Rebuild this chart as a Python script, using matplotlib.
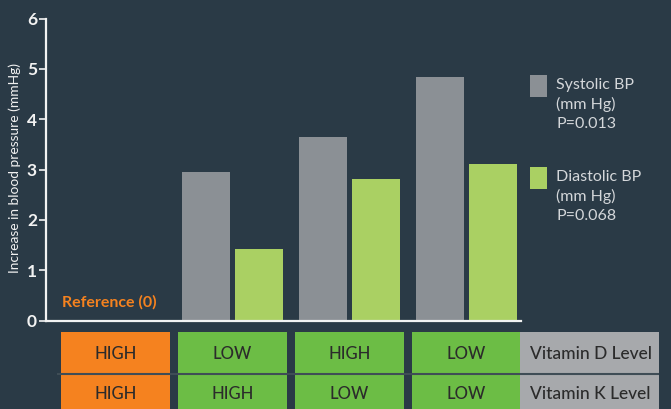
import matplotlib
matplotlib.use("Agg")
import matplotlib.pyplot as plt
from matplotlib.patches import Rectangle

# ---- data ----
groups = ["Reference", "LowD-HighK", "HighD-LowK", "LowD-LowK"]
systolic = [0, 2.95, 3.64, 4.84]
diastolic = [0, 1.42, 2.82, 3.10]
vitD = ["HIGH", "LOW", "HIGH", "LOW"]
vitK = ["HIGH", "HIGH", "LOW", "LOW"]
row_labels = ["Vitamin D Level", "Vitamin K Level"]
yticks = [0, 1, 2, 3, 4, 5, 6]
legend_labels = ["Systolic BP\n(mm Hg)\nP=0.013", "Diastolic BP\n(mm Hg)\nP=0.068"]

BG = "#2a3a46"
GRAY_BAR = "#8b9095"
GREEN_BAR = "#aad063"
ORANGE = "#f5821f"
TGREEN = "#6cbd45"
TGRAY = "#a7a9ac"
WHITE = "#f2f2f2"
FONT = ["Lato", "DejaVu Sans"]
plt.rcParams["font.family"] = FONT

W, H = 671, 409
fig = plt.figure(figsize=(W / 100, H / 100), dpi=100, facecolor=BG)

def fx(px):
    return px / W

def fy(py):
    return 1 - py / H

# group i centre at pixel 115.5 + 117*i
c0, step = 115.5, 117.0
def dx(px):
    return (px - c0) / step

# main axes
left, right, y0, y6 = 46, 521, 320.5, 18.5
ax = fig.add_axes([fx(left), fy(y0), fx(right - left), (y0 - y6) / H])
ax.set_facecolor(BG)
ax.set_xlim(dx(left), dx(right))
ax.set_ylim(0, 6)

width = 48 / step
off = 26.5 / step
idx = list(range(len(groups)))
ax.bar([i - off for i in idx[1:]], systolic[1:], width=width, color=GRAY_BAR,
       edgecolor="none", zorder=2)
ax.bar([i + off for i in idx[1:]], diastolic[1:], width=width, color=GREEN_BAR,
       edgecolor="none", zorder=2)

for s in ["top", "right"]:
    ax.spines[s].set_visible(False)
for s in ["left", "bottom"]:
    ax.spines[s].set_color(WHITE)
    ax.spines[s].set_linewidth(1.6)
    ax.spines[s].set_zorder(3)
ax.set_xticks([])
ax.set_yticks(yticks)
ax.tick_params(axis="y", colors=WHITE, length=5, width=1.2, pad=1.5,
               labelsize=12.5)
for t in ax.get_yticklabels():
    t.set_fontweight("bold")
    t.set_color(WHITE)
ax.set_ylabel("Increase in blood pressure (mmHg)", color=WHITE, fontsize=9.9,
              labelpad=6)
ax.yaxis.set_label_coords(-0.052, 0.505)

ax.text(0 - 6 / step, 0.37, "Reference (0)", color=ORANGE, fontsize=11.5,
        fontweight="bold", ha="center", va="center")

# table axes
tax = fig.add_axes([fx(left), 0, fx(W - left), fy(332)])
tax.set_xlim(dx(left), dx(W))
tax.set_ylim(409, 332)
tax.axis("off")
cw = 109 / step
rows = [(332, 373), (375, 420)]
text_y = [354, 394]
for r, vals in enumerate([vitD, vitK]):
    ytop, ybot = rows[r]
    for i, v in enumerate(vals):
        col = ORANGE if i == 0 else TGREEN
        tax.add_patch(Rectangle((i - cw / 2, ytop), cw, ybot - ytop,
                                facecolor=col, edgecolor="none", clip_on=False))
        tax.text(i, text_y[r], v, ha="center", va="center", fontsize=12,
                 color="#2b2b2b", fontweight="medium")
    gx0, gx1 = dx(520), dx(659)
    tax.add_patch(Rectangle((gx0, ytop), gx1 - gx0, ybot - ytop,
                            facecolor=TGRAY, edgecolor="none", clip_on=False))
    tax.text((gx0 + gx1) / 2 + 0.01, text_y[r], row_labels[r],
             ha="center", va="center", fontsize=12.5, color="#2b2b2b",
             fontweight="medium")
tax.plot([dx(57), dx(659)], [374, 374], color="#3f4d56", lw=1.5,
         solid_capstyle="butt", clip_on=False)

# legend (manual)
for k, (col, top) in enumerate([(GRAY_BAR, 75), (GREEN_BAR, 167)]):
    fig.add_artist(Rectangle((fx(530), fy(top + 22)), fx(17), 22 / H,
                             facecolor=col, edgecolor="none",
                             transform=fig.transFigure))
    fig.text(fx(556), fy(top + 3), legend_labels[k], color="#d4d7da",
             fontsize=11.5, ha="left", va="top", linespacing=1.42)

fig.savefig("out.png", dpi=100, facecolor=BG)
